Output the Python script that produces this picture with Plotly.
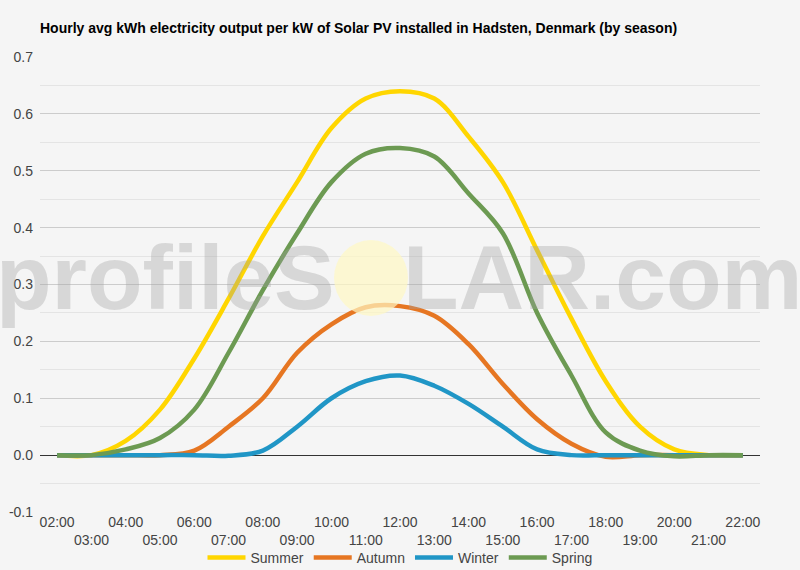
import plotly.graph_objects as go

hours = [f"{h:02d}:00" for h in range(2, 23)]
summer = [0, 0, 0.025, 0.08, 0.17, 0.275, 0.385, 0.48, 0.575, 0.627, 0.64, 0.627, 0.56, 0.48, 0.36, 0.24, 0.13, 0.05, 0.01, 0, 0]
autumn = [0, 0, 0, 0, 0.008, 0.05, 0.1, 0.18, 0.23, 0.26, 0.262, 0.245, 0.195, 0.125, 0.063, 0.02, -0.003, 0, 0, 0, 0]
winter = [0, 0, 0, 0, 0, -0.001, 0.008, 0.05, 0.1, 0.13, 0.14, 0.122, 0.09, 0.05, 0.01, 0, 0, 0, 0, 0, 0]
spring = [0, 0, 0.01, 0.03, 0.08, 0.18, 0.29, 0.39, 0.48, 0.53, 0.54, 0.525, 0.46, 0.39, 0.25, 0.14, 0.04, 0.008, -0.002, 0, 0]
y_ticks = [-0.1, 0.0, 0.1, 0.2, 0.3, 0.4, 0.5, 0.6, 0.7]
y_ticklabels = ["-0.1", "0.0", "0.1", "0.2", "0.3", "0.4", "0.5", "0.6", "0.7"]

series = [("Summer", summer, "rgb(255,214,0)"),
          ("Autumn", autumn, "rgb(230,118,34)"),
          ("Winter", winter, "rgb(32,150,198)"),
          ("Spring", spring, "rgb(108,154,82)")]

ticktext = [h if i % 2 == 0 else "<br>" + h for i, h in enumerate(hours)]

fig = go.Figure()
for name, vals, col in series:
    fig.add_trace(go.Scatter(x=hours, y=vals, name=name, mode="lines",
                             line=dict(color=col, width=4.5, shape="spline", smoothing=1.0)))

bg = "rgb(245,245,245)"
fig.update_layout(
    width=800, height=570,
    paper_bgcolor=bg, plot_bgcolor=bg,
    margin=dict(l=40, r=40, t=57, b=58),
    font=dict(family="Arial, Liberation Sans, sans-serif", color="#444"),
    title=dict(text="<b>Hourly avg kWh electricity output per kW of Solar PV installed in Hadsten, Denmark (by season)</b>",
               x=0, xref="paper", xanchor="left", y=0.951, yref="container", yanchor="middle",
               font=dict(size=14, color="#000")),
    showlegend=True,
    legend=dict(orientation="h", x=0.5, xanchor="center", y=12 / 570, yref="container",
                yanchor="middle",
                font=dict(size=14, color="#444"), bgcolor="rgba(0,0,0,0)", itemwidth=38,
                traceorder="normal"),
    xaxis=dict(type="category", tickmode="array", tickvals=hours, ticktext=ticktext,
               range=[-0.5, 20.5], showgrid=False, tickfont=dict(size=14, color="#444"),
               tickangle=0, showline=False, ticks="", zeroline=False, automargin=False),
    yaxis=dict(range=[-0.1, 0.7], tickmode="array", tickvals=y_ticks, ticktext=y_ticklabels,
               gridcolor="#cccccc",
               tickfont=dict(size=14, color="#444"), zeroline=True, zerolinecolor="#333",
               zerolinewidth=1, ticks="", ticklabelstandoff=6, automargin=False,
               minor=dict(dtick=0.05, showgrid=True, gridcolor="#e4e4e4")),
)

# watermark (paper coords: plot area x 40..760, y 57..512 in pixels)
def px(xp): return (xp - 40) / 720
def py(yp): return (512 - yp) / 455
wm_font = dict(size=91, family="Liberation Sans, Arial", color="rgba(160,160,160,0.35)",
               weight="bold")
fig.add_shape(type="circle", xref="paper", yref="paper",
              x0=px(334), x1=px(408), y0=py(316), y1=py(240),
              fillcolor="rgba(255,248,195,0.7)", line=dict(width=0), layer="above")
fig.add_annotation(text="profileS", x=px(337), y=py(277), xref="paper", yref="paper", showarrow=False,
                   xanchor="right", yanchor="middle", font=wm_font)
fig.add_annotation(text="LAR.com", x=px(401), y=py(277), xref="paper", yref="paper", showarrow=False,
                   xanchor="left", yanchor="middle", font=wm_font)

fig.write_html("out.html")
